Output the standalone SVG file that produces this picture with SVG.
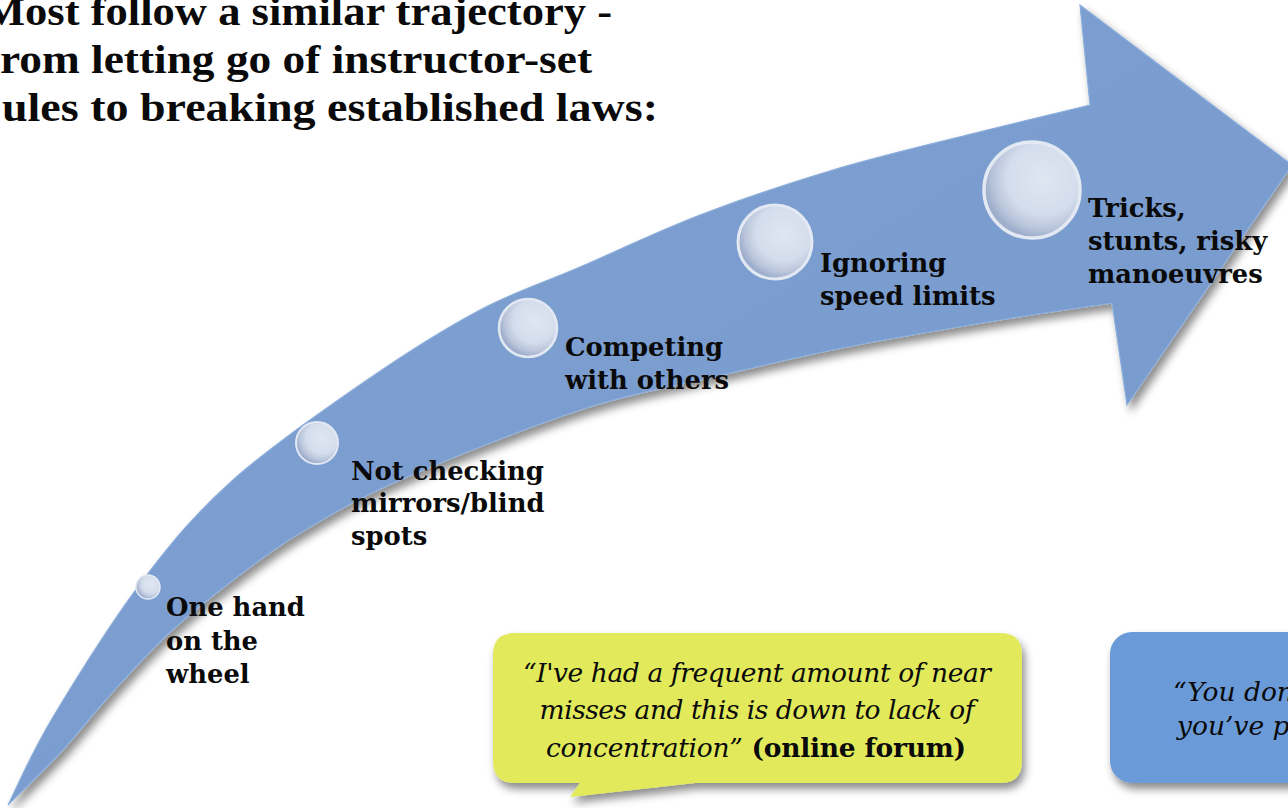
<svg xmlns="http://www.w3.org/2000/svg" width="1288" height="808" viewBox="0 0 1288 808">
  <defs>
    <filter id="shadow" x="-10%" y="-10%" width="130%" height="130%">
      <feDropShadow dx="4" dy="6" stdDeviation="4" flood-color="#000" flood-opacity="0.45"/>
    </filter>
    <filter id="boxShadow" x="-10%" y="-10%" width="130%" height="140%">
      <feDropShadow dx="3" dy="6" stdDeviation="4" flood-color="#000" flood-opacity="0.45"/>
    </filter>
    <radialGradient id="bead" cx="62%" cy="38%" r="62%">
      <stop offset="0" stop-color="#DFE6F2"/>
      <stop offset="0.6" stop-color="#D4DDEC"/>
      <stop offset="0.85" stop-color="#B9C5DB"/>
      <stop offset="1" stop-color="#9DADCB"/>
    </radialGradient>
    <linearGradient id="arrowFill" x1="0" y1="0" x2="1" y2="1">
      <stop offset="0" stop-color="#7EA1D2"/>
      <stop offset="1" stop-color="#7799CC"/>
    </linearGradient>
  </defs>
  <style>
    .lbl { font-family: "DejaVu Serif", "Liberation Serif", serif; font-weight: bold; font-size: 25.8px; fill: #0a0a0a; }
    .title { font-family: "Liberation Serif", "DejaVu Serif", serif; font-weight: bold; font-size: 39px; fill: #0a0a0a; }
    .quote { font-family: "DejaVu Serif", "Liberation Serif", serif; font-style: italic; font-size: 26.5px; fill: #0a0a0a; }
    .src { font-style: normal; font-weight: bold; }
    .bead { fill: url(#bead); stroke: #E3E9F3; }
  </style>

  <rect width="1288" height="808" fill="#ffffff"/>

  <g id="title">
    <text class="title" x="-17" y="25" textLength="629" lengthAdjust="spacingAndGlyphs">Most follow a similar trajectory -</text>
    <text class="title" x="0" y="73" textLength="592" lengthAdjust="spacingAndGlyphs">rom letting go of instructor-set</text>
    <text class="title" x="2" y="121" textLength="656" lengthAdjust="spacingAndGlyphs">ules to breaking established laws:</text>
  </g>

  <g id="arrow" filter="url(#shadow)">
    <path fill="url(#arrowFill)" stroke="#8CAEDC" stroke-width="1.2" d="M 8,805 C 15.5,790.3 30.5,754.5 53,717 C 75.5,679.5 113,619.5 143,580 C 173,540.5 195.7,513.3 233,480 C 270.3,446.7 325.8,408.3 367,380 C 408.2,351.7 444.5,328.8 480,310 C 515.5,291.2 543.3,282.8 580,267 C 616.7,251.2 657.8,231.2 700,215 C 742.2,198.8 788.5,183.3 833,170 C 877.5,156.7 924.2,145.8 967,135 C 1009.8,124.2 1069.5,110 1090,105 L 1080,5 L 1292,165 L 1127,405 L 1112,303 C 1093.3,305.8 1044.2,312.7 1000,320 C 955.8,327.3 894.8,337.5 847,347 C 799.2,356.5 757.5,366.5 713,377 C 668.5,387.5 632.2,392.8 580,410 C 527.8,427.2 446.7,459.5 400,480 C 353.3,500.5 327.8,516.3 300,533 C 272.2,549.7 255.2,563 233,580 C 210.8,597 187.5,615.8 167,635 C 146.5,654.2 127.8,675.3 110,695 C 92.2,714.7 77,734.7 60,753 C 43,771.3 16.7,796.3 8,805 Z"/>
  </g>

  <g id="step1">
    <circle class="bead" cx="148" cy="587" r="12" stroke-width="1.5"/>
    <text class="lbl" x="166" y="616">One hand</text>
    <text class="lbl" x="166" y="650">on the</text>
    <text class="lbl" x="166" y="683">wheel</text>
  </g>
  <g id="step2">
    <circle class="bead" cx="317" cy="443" r="21" stroke-width="2"/>
    <text class="lbl" x="351" y="480">Not checking</text>
    <text class="lbl" x="351" y="512">mirrors/blind</text>
    <text class="lbl" x="351" y="545">spots</text>
  </g>
  <g id="step3">
    <circle class="bead" cx="528" cy="328" r="29" stroke-width="2.5"/>
    <text class="lbl" x="565" y="356">Competing</text>
    <text class="lbl" x="565" y="389">with others</text>
  </g>
  <g id="step4">
    <circle class="bead" cx="775" cy="242" r="37" stroke-width="3"/>
    <text class="lbl" x="820" y="272">Ignoring</text>
    <text class="lbl" x="820" y="305">speed limits</text>
  </g>
  <g id="step5">
    <circle class="bead" cx="1032" cy="190" r="48" stroke-width="3.5"/>
    <text class="lbl" x="1088" y="217">Tricks,</text>
    <text class="lbl" x="1088" y="250">stunts, risky</text>
    <text class="lbl" x="1088" y="283">manoeuvres</text>
  </g>

  <g id="quote1">
    <path filter="url(#boxShadow)" fill="#E2EA5C" d="M 515,633 L 1000,633 Q 1022,633 1022,655 L 1022,761 Q 1022,783 1000,783 L 695,783 L 570,797 L 580,783 L 515,783 Q 493,783 493,761 L 493,655 Q 493,633 515,633 Z"/>
    <text class="quote" x="757" y="682" text-anchor="middle" textLength="468">“I've had a frequent amount of near</text>
    <text class="quote" x="757" y="719" text-anchor="middle" textLength="435">misses and this is down to lack of</text>
    <text class="quote" x="756" y="757" text-anchor="middle" textLength="420">concentration”<tspan class="src"> (online forum)</tspan></text>
  </g>

  <g id="quote2">
    <rect filter="url(#boxShadow)" x="1110" y="632" width="220" height="151" rx="22" ry="22" fill="#6A9BD8"/>
    <text class="quote" x="1173" y="701">“You don</text>
    <text class="quote" x="1177" y="735">you’ve p</text>
  </g>
</svg>
